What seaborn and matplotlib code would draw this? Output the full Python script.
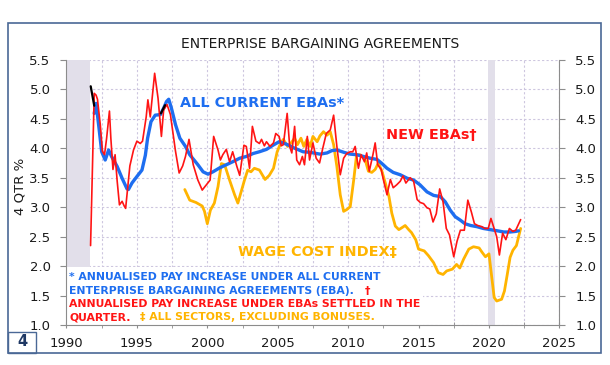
import matplotlib
matplotlib.use("Agg")
import numpy as np
import pandas as pd
import seaborn as sns
import matplotlib.pyplot as plt
from matplotlib.patches import Rectangle

# Dados (anos fracionarios, % em 4 trimestres)
new_eba_year = [1991.71, 1991.97, 1992.1, 1992.2, 1992.4, 1992.55, 1992.7, 1992.85, 1993.05, 1993.15,
                1993.3, 1993.45, 1993.6, 1993.76, 1993.95, 1994.1, 1994.2, 1994.5, 1994.76, 1995.0,
                1995.24, 1995.4, 1995.66, 1995.78, 1995.95, 1996.26, 1996.5, 1996.74, 1996.9, 1997.14,
                1997.38, 1997.74, 1998.0, 1998.25, 1998.45, 1998.7, 1999.0, 1999.33, 1999.64, 1999.8,
                2000.2, 2000.45, 2000.76, 2000.93, 2001.1, 2001.35, 2001.58, 2001.8, 2002.1, 2002.3,
                2002.6, 2002.77, 2003.0, 2003.2, 2003.45, 2003.7, 2003.85, 2004.05, 2004.2, 2004.45,
                2004.7, 2004.86, 2005.1, 2005.25, 2005.4, 2005.67, 2005.85, 2006.0, 2006.2, 2006.35,
                2006.55, 2006.75, 2006.9, 2007.1, 2007.26, 2007.5, 2007.73, 2007.97, 2008.2, 2008.45,
                2008.73, 2008.97, 2009.2, 2009.44, 2009.68, 2009.9, 2010.15, 2010.33, 2010.5, 2010.73,
                2010.92, 2011.16, 2011.32, 2011.5, 2011.76, 2011.92, 2012.1, 2012.35, 2012.5, 2012.76,
                2013.0, 2013.2, 2013.45, 2013.7, 2013.9, 2014.1, 2014.4, 2014.65, 2014.9, 2015.12,
                2015.36, 2015.6, 2015.8, 2016.03, 2016.26, 2016.5, 2016.74, 2016.97, 2017.2, 2017.5,
                2017.73, 2017.97, 2018.25, 2018.5, 2018.75, 2018.97, 2019.2, 2019.5, 2019.7, 2019.95,
                2020.14, 2020.4, 2020.55, 2020.74, 2020.97, 2021.2, 2021.45, 2021.7, 2021.9, 2022.25]
new_eba = [2.35, 4.93, 4.90, 4.83, 4.40, 3.95, 3.89, 4.17, 4.63, 4.17,
           3.64, 3.89, 3.44, 3.04, 3.10, 3.02, 2.98, 3.70, 3.97, 4.12,
           4.08, 4.12, 4.53, 4.82, 4.53, 5.27, 4.85, 4.20, 4.65, 4.74,
           4.57, 3.95, 3.58, 3.70, 3.86, 4.15, 3.72, 3.46, 3.29, 3.34,
           3.46, 4.20, 3.97, 3.80, 3.89, 3.98, 3.77, 3.94, 3.69, 3.54,
           4.05, 4.03, 3.66, 4.37, 4.12, 4.08, 4.15, 4.04, 4.11, 4.03,
           4.09, 4.25, 4.20, 4.04, 4.06, 4.59, 4.03, 3.92, 4.37, 3.80,
           3.72, 3.86, 3.72, 4.20, 3.80, 4.09, 3.83, 3.75, 4.00, 4.25,
           4.31, 4.56, 4.03, 3.55, 3.83, 3.91, 3.94, 3.94, 4.03, 3.66,
           3.89, 3.77, 3.92, 3.61, 3.89, 4.09, 3.72, 3.64, 3.47, 3.21,
           3.47, 3.33, 3.38, 3.44, 3.53, 3.41, 3.50, 3.44, 3.13, 3.08,
           3.06, 2.99, 2.97, 2.75, 2.89, 3.31, 3.09, 2.64, 2.53, 2.16,
           2.42, 2.61, 2.61, 3.12, 2.92, 2.72, 2.69, 2.67, 2.64, 2.64,
           2.81, 2.61, 2.50, 2.19, 2.56, 2.45, 2.64, 2.59, 2.61, 2.79]

all_eba_year = [1991.97, 1992.1, 1992.3, 1992.5, 1992.75, 1992.99, 1993.2, 1993.6, 1993.95, 1994.3,
                1994.4, 1994.65, 1995.0, 1995.36, 1995.6, 1995.76, 1996.0, 1996.3, 1996.67, 1996.9,
                1997.1, 1997.26, 1997.45, 1997.74, 1998.05, 1998.45, 1998.75, 1999.33, 1999.7, 2000.05,
                2000.4, 2000.9, 2001.35, 2001.8, 2002.3, 2002.77, 2003.25, 2003.7, 2004.2, 2004.66,
                2005.1, 2005.6, 2006.2, 2006.8, 2007.3, 2008.0, 2008.5, 2008.85, 2009.2, 2009.7,
                2010.15, 2010.6, 2011.1, 2011.57, 2012.05, 2012.4, 2012.76, 2013.2, 2013.7, 2014.2,
                2014.65, 2015.1, 2015.6, 2016.07, 2016.55, 2016.9, 2017.25, 2017.6, 2017.97, 2018.3,
                2018.7, 2019.15, 2019.6, 2020.1, 2020.6, 2021.05, 2021.5, 2021.9, 2022.1]
all_eba = [4.59, 4.76, 4.36, 3.94, 3.80, 3.97, 3.86, 3.69, 3.49, 3.31,
           3.30, 3.41, 3.52, 3.63, 3.88, 4.17, 4.45, 4.56, 4.57, 4.68,
           4.79, 4.83, 4.68, 4.40, 4.17, 4.03, 3.89, 3.72, 3.60, 3.56,
           3.60, 3.67, 3.72, 3.77, 3.83, 3.86, 3.91, 3.94, 3.98, 4.05,
           4.11, 4.07, 4.00, 3.94, 3.93, 3.90, 3.92, 3.96, 3.97, 3.93,
           3.90, 3.89, 3.86, 3.83, 3.81, 3.74, 3.66, 3.59, 3.55, 3.49,
           3.46, 3.38, 3.26, 3.20, 3.18, 3.09, 2.95, 2.84, 2.78, 2.72,
           2.69, 2.67, 2.64, 2.62, 2.60, 2.58, 2.58, 2.59, 2.60]

wpi_year = [1998.4, 1998.75, 1999.2, 1999.64, 1999.8, 2000.0, 2000.22, 2000.5, 2000.76, 2001.0,
            2001.23, 2001.58, 2001.94, 2002.17, 2002.4, 2002.64, 2002.87, 2003.1, 2003.34, 2003.7,
            2004.1, 2004.4, 2004.7, 2004.96, 2005.2, 2005.4, 2005.7, 2005.95, 2006.2, 2006.4,
            2006.65, 2006.85, 2007.07, 2007.3, 2007.5, 2007.8, 2008.0, 2008.25, 2008.5, 2008.73,
            2008.97, 2009.2, 2009.44, 2009.68, 2009.9, 2010.15, 2010.4, 2010.6, 2010.85, 2011.2,
            2011.44, 2011.68, 2011.92, 2012.15, 2012.4, 2012.64, 2012.9, 2013.1, 2013.35, 2013.6,
            2013.8, 2014.05, 2014.3, 2014.5, 2014.8, 2015.0, 2015.4, 2015.7, 2016.07, 2016.4,
            2016.74, 2017.0, 2017.4, 2017.7, 2017.93, 2018.2, 2018.57, 2018.9, 2019.3, 2019.5,
            2019.75, 2020.0, 2020.2, 2020.37, 2020.55, 2020.9, 2021.1, 2021.3, 2021.5, 2021.7,
            2021.95, 2022.25]
wpi = [3.30, 3.12, 3.08, 3.02, 2.93, 2.72, 2.95, 3.07, 3.35, 3.74,
       3.72, 3.46, 3.21, 3.07, 3.26, 3.46, 3.63, 3.60, 3.66, 3.63,
       3.47, 3.54, 3.66, 3.94, 4.08, 4.15, 4.03, 4.09, 4.17, 4.06,
       4.17, 4.03, 4.15, 4.03, 4.20, 4.11, 4.21, 4.28, 4.22, 4.28,
       4.06, 3.69, 3.21, 2.93, 2.96, 3.01, 3.47, 3.89, 3.89, 3.81,
       3.61, 3.59, 3.64, 3.75, 3.61, 3.41, 3.18, 2.90, 2.68, 2.62,
       2.65, 2.69, 2.62, 2.57, 2.45, 2.29, 2.26, 2.18, 2.06, 1.89,
       1.86, 1.92, 1.95, 2.03, 1.97, 2.12, 2.29, 2.33, 2.31, 2.24,
       2.16, 2.21, 1.81, 1.47, 1.41, 1.44, 1.58, 1.86, 2.15, 2.27,
       2.35, 2.64]

# Segmentos pretos (quebras de serie)
black1_year = [1991.72, 1991.97]
black1 = [5.05, 4.72]
black2_year = [1996.7, 1997.0]
black2 = [4.59, 4.73]

# Recessoes sombreadas
rec_start = [1990.0, 2019.9]
rec_end = [1991.7, 2020.45]

x_ticks = [1990, 1995, 2000, 2005, 2010, 2015, 2020, 2025]
y_ticks = [1.0, 1.5, 2.0, 2.5, 3.0, 3.5, 4.0, 4.5, 5.0, 5.5]

BLUE = "#1e6ef0"
RED = "#ff1414"
GOLD = "#ffb400"

sns.set_style("white")
plt.rcParams['font.family'] = ['DejaVu Sans']

fig = plt.figure(figsize=(6.1, 3.65), dpi=100)
ax = fig.add_axes([0.109, 0.109, 0.808, 0.7274])

for s, e in zip(rec_start, rec_end):
    ax.axvspan(s, e, color="#e2dfea", lw=0, zorder=1)

# caixa branca da nota de rodape
ax.add_patch(Rectangle((1990, 1.0), 25.3, 0.98, facecolor="white", edgecolor="none", zorder=1.5))

sns.lineplot(x=wpi_year, y=wpi, ax=ax, color=GOLD, lw=2.0, zorder=3)
sns.lineplot(x=all_eba_year, y=all_eba, ax=ax, color=BLUE, lw=2.4, zorder=4)
sns.lineplot(x=new_eba_year, y=new_eba, ax=ax, color=RED, lw=1.2, zorder=5)
sns.lineplot(x=black1_year, y=black1, ax=ax, color="black", lw=1.6, zorder=6)
sns.lineplot(x=black2_year, y=black2, ax=ax, color="black", lw=1.6, zorder=6)

ax.set_xlim(1990, 2025)
ax.set_ylim(1.0, 5.5)
ax.set_xticks(x_ticks)
ax.set_xticks(np.arange(1992.5, 2025, 5), minor=True)
ax.set_yticks(y_ticks)
ax.set_yticklabels([f"{v:.1f}" for v in y_ticks])
ax.grid(which="both", color="#cdc6df", ls=(0, (2, 2)), lw=0.8, zorder=0)
ax.set_axisbelow(True)

for side in ["left", "right", "bottom"]:
    ax.spines[side].set_visible(True)
    ax.spines[side].set_color("#8c8c8c")
ax.spines["top"].set_visible(False)

ax.tick_params(axis="y", left=True, right=True, labelleft=True, labelright=True,
               direction="out", length=4, color="#8c8c8c", labelsize=9.5,
               labelcolor="#1a1a1a", pad=7.5)
ax.tick_params(axis="x", which="both", bottom=True, direction="inout", length=5,
               color="#8c8c8c", labelsize=9.5, labelcolor="#1a1a1a", pad=6)
ax.set_xlabel("")
ax.set_ylabel("")

# rotulos das series
ax.text(1998.07, 4.77, "ALL CURRENT EBAs*", color=BLUE, fontsize=10.4,
        fontweight="bold", va="center", zorder=7)
ax.text(2012.7, 4.23, "NEW EBAs\u2020", color=RED, fontsize=10.4,
        fontweight="bold", va="center", zorder=7)
ax.text(2002.19, 2.24, "WAGE COST INDEX\u2021", color=GOLD, fontsize=10.4,
        fontweight="bold", va="center", zorder=7)

# nota de rodape
fs = 7.8
t1 = ax.text(1990.18, 1.81, "* ANNUALISED PAY INCREASE UNDER ALL CURRENT", color=BLUE,
             fontsize=fs, fontweight="bold", va="center", zorder=7)
t2 = ax.text(1990.18, 1.587, "ENTERPRISE BARGAINING AGREEMENTS (EBA).", color=BLUE,
             fontsize=fs, fontweight="bold", va="center", zorder=7)
ax.annotate("\u2020", xy=(1, 0), xycoords=t2, xytext=(8, 0), textcoords="offset points",
            color=RED, fontsize=fs, fontweight="bold", va="bottom", zorder=7)
t3 = ax.text(1990.18, 1.36, "ANNUALISED PAY INCREASE UNDER EBAs SETTLED IN THE", color=RED,
             fontsize=fs, fontweight="bold", va="center", zorder=7)
t4 = ax.text(1990.18, 1.135, "QUARTER.", color=RED,
             fontsize=fs, fontweight="bold", va="center", zorder=7)
ax.annotate("\u2021 ALL SECTORS, EXCLUDING BONUSES.", xy=(1, 0), xycoords=t4, xytext=(7, 0),
            textcoords="offset points", color=GOLD, fontsize=fs, fontweight="bold",
            va="bottom", zorder=7)

# titulo e eixo
fig.text(320 / 610, 1 - 44 / 365, "ENTERPRISE BARGAINING AGREEMENTS", ha="center",
         va="center", fontsize=10, color="#1a1a1a")
fig.text(20 / 610, 1 - 186 / 365, "4 QTR %", rotation=90, ha="center", va="center",
         fontsize=9.5, color="#1a1a1a")

# moldura
fig.patches.append(Rectangle((7.5 / 610, 12.3 / 365), 593.5 / 610, 329.4 / 365,
                             transform=fig.transFigure, fill=False, edgecolor="#4a6896", lw=1.2))
fig.patches.append(Rectangle((7.5 / 610, 12.3 / 365), 28.5 / 610, 21 / 365,
                             transform=fig.transFigure, fill=False, edgecolor="#4a6896", lw=1.0))
fig.text(22 / 610, 1 - 342 / 365, "4", ha="center", va="center", fontsize=10.5,
         fontweight="bold", color="#1f3864")

fig.savefig("out.png", dpi=100)
